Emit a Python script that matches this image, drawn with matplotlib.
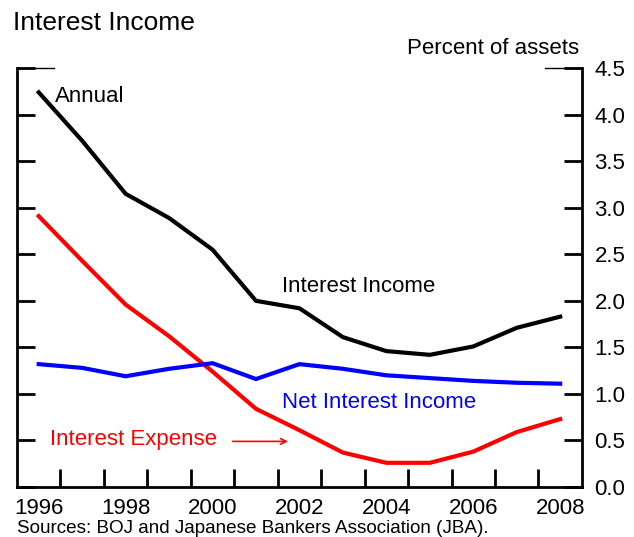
import matplotlib
matplotlib.use("Agg")
import matplotlib.pyplot as plt

plt.rcParams['font.family'] = ['Liberation Sans', 'DejaVu Sans']

years = [1996, 1997, 1998, 1999, 2000, 2001, 2002, 2003, 2004, 2005, 2006, 2007, 2008]
interest_income = [4.24, 3.72, 3.15, 2.89, 2.55, 2.00, 1.92, 1.61, 1.46, 1.42, 1.51, 1.71, 1.83]
interest_expense = [2.91, 2.43, 1.96, 1.62, 1.24, 0.84, 0.61, 0.37, 0.26, 0.26, 0.38, 0.59, 0.73]
net_income = [1.32, 1.28, 1.19, 1.27, 1.33, 1.16, 1.32, 1.27, 1.20, 1.17, 1.14, 1.12, 1.11]

year_labels = ['1996', '1998', '2000', '2002', '2004', '2006', '2008']
y_ticks = [0.0, 0.5, 1.0, 1.5, 2.0, 2.5, 3.0, 3.5, 4.0, 4.5]

fig = plt.figure(figsize=(6.34, 5.37), dpi=100)
ax = fig.add_axes([0.0268, 0.0931, 0.891, 0.780])

ax.plot(years, interest_income, color='black', lw=3)
ax.plot(years, interest_expense, color='#ff0000', lw=3)
ax.plot(years, net_income, color='#0000ff', lw=3)

ax.set_xlim(1995.5, 2008.5)
ax.set_ylim(0, 4.5)

# ticks at year boundaries, labels at year centres
ax.set_xticks([y + 0.5 for y in years[:-1]])
ax.set_xticklabels([])
ax.set_xticks([int(s) for s in year_labels], minor=True)
ax.set_xticklabels(year_labels, minor=True)
ax.tick_params(axis='x', which='major', direction='in', length=13, width=2)
ax.tick_params(axis='x', which='minor', length=0, pad=8, labelsize=16)

ax.set_yticks(y_ticks)
ax.set_yticklabels(['%.1f' % v for v in y_ticks])
ax.yaxis.tick_right()
ax.tick_params(axis='y', direction='in', length=13, width=2, pad=9, labelsize=16,
               left=True, right=True)

for s in ['left', 'right', 'bottom']:
    ax.spines[s].set_linewidth(2)
ax.spines['top'].set_visible(False)
# short stubs at the top corners
ax.plot([0, 0.066], [1, 1], color='black', lw=1, transform=ax.transAxes, clip_on=False)
ax.plot([0.935, 1], [1, 1], color='black', lw=1, transform=ax.transAxes, clip_on=False)

ax.text(1996.37, 4.2, 'Annual', fontsize=16, va='center', ha='left')
ax.text(2001.6, 2.15, 'Interest Income', fontsize=16, va='center', ha='left')
ax.text(2001.6, 0.91, 'Net Interest Income', fontsize=16, va='center', ha='left', color='#0000ff')
ax.text(1996.25, 0.51, 'Interest Expense', fontsize=16, va='center', ha='left', color='#ff0000')
ax.annotate('', xy=(2001.8, 0.49), xytext=(2000.4, 0.49),
            arrowprops=dict(arrowstyle='->', color='#ff0000', lw=1.2))

fig.text(0.02, 0.958, 'Interest Income', fontsize=19, va='center', ha='left')
fig.text(0.913, 0.91, 'Percent of assets', fontsize=16, va='center', ha='right')
fig.text(0.027, 0.008, 'Sources: BOJ and Japanese Bankers Association (JBA).', fontsize=13.6,
         va='baseline', ha='left')

fig.savefig('out.png', dpi=100)
